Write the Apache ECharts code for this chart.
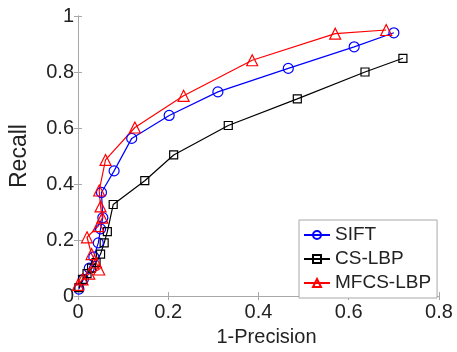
<!DOCTYPE html>
<html>
<head>
<meta charset="utf-8">
<script src="https://cdn.jsdelivr.net/npm/echarts@6/dist/echarts.min.js"></script>
<style>html,body{margin:0;padding:0;background:#fff}#c{width:457px;height:352px}</style>
</head>
<body>
<div id="c"></div>
<script>
const seriesNames = ['SIFT', 'CS-LBP', 'MFCS-LBP'];
const xTicks = [0, 0.2, 0.4, 0.6, 0.8];
const yTicks = [0, 0.2, 0.4, 0.6, 0.8, 1];

const siftX = [0.002, 0.012, 0.025, 0.035, 0.045, 0.05, 0.055, 0.052, 0.08, 0.119, 0.202, 0.31, 0.466, 0.612, 0.70];
const siftY = [0.025, 0.06, 0.10, 0.14, 0.19, 0.24, 0.28, 0.37, 0.447, 0.563, 0.645, 0.729, 0.813, 0.89, 0.94];

const cslbpX = [0.002, 0.01, 0.02, 0.03, 0.04, 0.05, 0.058, 0.065, 0.078, 0.148, 0.212, 0.333, 0.486, 0.636, 0.72];
const cslbpY = [0.03, 0.06, 0.08, 0.10, 0.12, 0.15, 0.19, 0.23, 0.327, 0.412, 0.504, 0.609, 0.704, 0.80, 0.849];

const mfcsX = [0.0, 0.01, 0.025, 0.047, 0.04, 0.03, 0.02, 0.045, 0.054, 0.05, 0.047, 0.061, 0.126, 0.234, 0.386, 0.57, 0.683];
const mfcsY = [0.04, 0.06, 0.08, 0.095, 0.12, 0.15, 0.21, 0.25, 0.28, 0.32, 0.377, 0.486, 0.602, 0.715, 0.842, 0.937, 0.95];

const pairs = (xs, ys) => xs.map((x, i) => [x, ys[i]]);
const FONT = '"Liberation Sans", Arial, sans-serif';
const axisGray = '#a8a8a8';

const chart = echarts.init(document.getElementById('c'), null, {renderer: 'canvas'});

function mkSeries(name, data, color, symbol, size) {
  return {
    name: name, type: 'line', data: data,
    symbol: symbol, symbolSize: size,
    lineStyle: {color: color, width: 1.2},
    itemStyle: {color: 'rgba(255,255,255,0)', borderColor: color, borderWidth: 1.2},
    emphasis: {disabled: true},
    animation: false,
    z: 3
  };
}

const option = {
  backgroundColor: '#fff',
  animation: false,
  grid: {left: 70, right: 18, top: 16, bottom: 52, containLabel: false},
  legend: {
    orient: 'vertical',
    left: 299, top: 220,
    padding: [5, 6, 5, 4],
    itemGap: 4,
    itemWidth: 26, itemHeight: 10,
    itemTextGap: 3,
    backgroundColor: '#fff',
    borderColor: '#a8a8a8', borderWidth: 1,
    textStyle: {fontFamily: FONT, fontSize: 19, color: '#222', lineHeight: 20},
    data: seriesNames
  },
  xAxis: [
    {
      type: 'value', min: 0, max: 0.8, interval: 0.2,
      name: '1-Precision', nameLocation: 'middle', nameGap: 26,
      nameTextStyle: {fontFamily: FONT, fontSize: 20, color: '#222', padding: [0, 0, 0, 16]},
      axisLine: {show: true, lineStyle: {color: axisGray, width: 1}},
      axisTick: {show: true, inside: true, length: 4, lineStyle: {color: axisGray}},
      axisLabel: {fontFamily: FONT, fontSize: 20, color: '#222', margin: 6,
        formatter: v => { const t = xTicks.find(k => Math.abs(k - v) < 1e-9); return t === undefined ? '' : String(t); }},
      splitLine: {show: false}
    },
    {
      type: 'value', min: 0, max: 0.8, interval: 0.2, position: 'top',
      axisLine: {show: true, lineStyle: {color: axisGray, width: 1}},
      axisTick: {show: true, inside: true, length: 4, lineStyle: {color: axisGray}},
      axisLabel: {show: false}, splitLine: {show: false}
    }
  ],
  yAxis: [
    {
      type: 'value', min: 0, max: 1, interval: 0.2,
      name: 'Recall', nameLocation: 'middle', nameGap: 47, nameRotate: 90,
      nameTextStyle: {fontFamily: FONT, fontSize: 23, color: '#222'},
      axisLine: {show: true, lineStyle: {color: axisGray, width: 1}},
      axisTick: {show: true, inside: true, length: 4, lineStyle: {color: axisGray}},
      axisLabel: {fontFamily: FONT, fontSize: 20, color: '#222', margin: 4,
        formatter: v => { const t = yTicks.find(k => Math.abs(k - v) < 1e-9); return t === undefined ? '' : String(t); }},
      splitLine: {show: false}
    },
    {
      type: 'value', min: 0, max: 1, interval: 0.2, position: 'right',
      axisLine: {show: true, lineStyle: {color: axisGray, width: 1}},
      axisTick: {show: true, inside: true, length: 4, lineStyle: {color: axisGray}},
      axisLabel: {show: false}, splitLine: {show: false}
    }
  ],
  series: [
    mkSeries(seriesNames[0], pairs(siftX, siftY), '#0000ff', 'circle', 10),
    mkSeries(seriesNames[1], pairs(cslbpX, cslbpY), '#000000', 'rect', 8),
    mkSeries(seriesNames[2], pairs(mfcsX, mfcsY), '#ff0000', 'triangle', 11)
  ]
};
chart.setOption(option);
</script>
</body>
</html>
